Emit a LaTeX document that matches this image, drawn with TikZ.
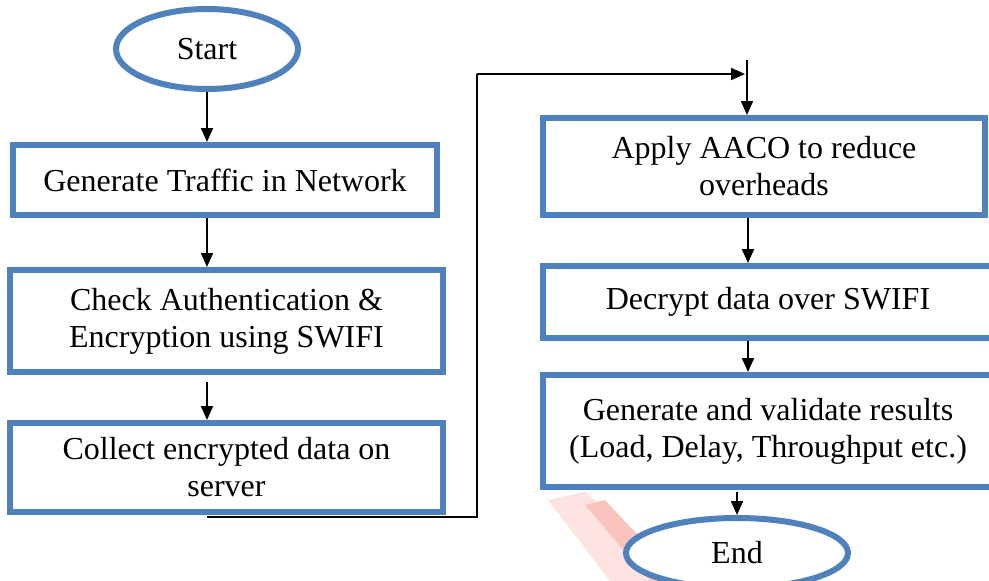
\documentclass[tikz,border=0pt]{standalone}
\usepackage{fontspec}
\setmainfont{Liberation Serif}
\newfontfamily\flowfont{Liberation Serif}
\usetikzlibrary{arrows.meta,shapes.geometric}
\definecolor{boxblue}{RGB}{79,129,189}
\definecolor{markpink}{RGB}{253,228,225}
\definecolor{markred}{RGB}{250,196,190}
\tikzset{
  stepbox/.style={draw=boxblue, line width=6pt, rectangle, inner sep=0pt,
    align=center, font=\flowfont\fontsize{32}{37}\selectfont},
  termbox/.style={draw=boxblue, fill=white, line width=6pt, ellipse, inner sep=0pt,
    font=\flowfont\fontsize{32}{37}\selectfont},
  flow/.style={draw=black, line width=2pt, -{Triangle[length=14pt,width=12pt]}},
  plain/.style={draw=black, line width=2pt}
}
\begin{document}
\begin{tikzpicture}[x=1pt,y=-1pt]
\useasboundingbox (0,0) rectangle (989,581);

% faint mark behind the end terminal
\fill[markpink] (548,500) -- (585,492) -- (700,581) -- (610,581) -- cycle;
\fill[markred] (585,505) -- (605,500) -- (680,581) -- (650,581) -- cycle;

% left column
\node[termbox, minimum width=182pt, minimum height=80pt] (start) at (207,49) {Start};
\node[stepbox, minimum width=424pt, minimum height=70pt] (gen) at (225,180)
  {Generate Traffic in Network};
\node[stepbox, minimum width=433pt, minimum height=102pt] (check) at (226.5,321)
  {Check Authentication \&\\Encryption using SWIFI};
\node[stepbox, minimum width=433pt, minimum height=89pt] (collect) at (226.5,467.5)
  {Collect encrypted data on\\server};

% right column
\node[stepbox, minimum width=442pt, minimum height=97pt] (apply) at (764,166.5)
  {Apply AACO to reduce\\overheads};
\node[stepbox, minimum width=450pt, minimum height=72pt] (decrypt) at (768,302)
  {Decrypt data over SWIFI};
\node[stepbox, minimum width=450pt, minimum height=112pt] (results) at (768,431)
  {Generate and validate results\\(Load, Delay, Throughput etc.)};
\node[termbox, minimum width=222pt, minimum height=70pt] (end) at (737,553) {End};

% routing points
\coordinate (lcol) at (207,0);
\coordinate (rcol) at (748,0);
\coordinate (low) at (207,517);
\coordinate (turn) at (477,74);
\coordinate (hit) at (745,74);
\coordinate (drop) at (747,60);

% connectors
\draw[flow] (start.south) -- (gen.north -| lcol);
\draw[flow] (gen.south -| lcol) -- (check.north -| lcol);
\draw[flow, shorten <=7pt] (check.south -| lcol) -- (collect.north -| lcol);
\draw[plain] (low) -| (turn);
\draw[flow] (turn) -- (hit);
\draw[flow] (drop) -- (apply.north -| drop);
\draw[flow] (apply.south -| rcol) -- (decrypt.north -| rcol);
\draw[flow] (decrypt.south -| rcol) -- (results.north -| rcol);
\draw[flow, shorten <=2pt] (results.south -| end) -- (end.north);
\end{tikzpicture}
\end{document}
